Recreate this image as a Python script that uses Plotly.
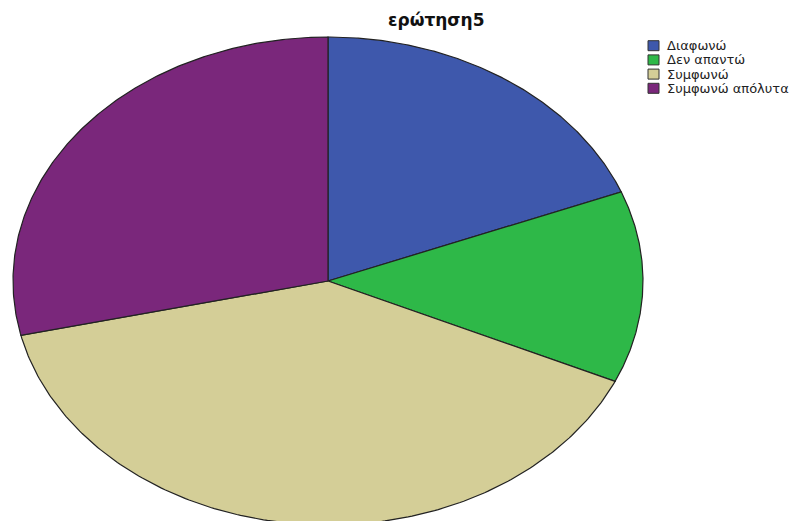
import numpy as np
import plotly.graph_objects as go

title = "ερώτηση5"
categories = ["Διαφωνώ", "Δεν απαντώ", "Συμφωνώ", "Συμφωνώ απόλυτα"]
counts = [12, 8, 25, 18]
colors = ["#3E58AC", "#2EB848", "#D4CE97", "#7A277B"]

OFF = 8                 # page body margin
W, H = 798 - OFF, 521 - OFF
CX, CY = 328 - OFF, 281 - OFF   # pie centre in pixels (figure coords)
RX, RY = 315, 244               # ellipse radii in pixels

fig = go.Figure()
total = sum(counts)
start = 0.0
for name, val, col in zip(categories, counts, colors):
    span = 2 * np.pi * val / total
    t = np.linspace(start, start + span, 200)
    xs = np.concatenate([[0], np.sin(t), [0]])
    ys = np.concatenate([[0], np.cos(t), [0]])
    fig.add_trace(go.Scatter(x=xs, y=ys, mode="lines", fill="toself",
                             fillcolor=col, line=dict(color="#222222", width=1.2),
                             name=name, hoveron="fills", showlegend=False))
    start += span


def px(x):
    return (x - OFF) / W


def py(y):
    return 1 - (y - OFF) / H


# manual legend
y0, step = 45.7, 14.2
for i, (name, col) in enumerate(zip(categories, colors)):
    yc = y0 + i * step
    fig.add_shape(type="rect", xref="paper", yref="paper",
                  x0=px(648), x1=px(659), y0=py(yc - 5), y1=py(yc + 5),
                  fillcolor=col, line=dict(color="#333333", width=1))
    fig.add_annotation(xref="paper", yref="paper", x=px(665), y=py(yc),
                       text=name, showarrow=False, xanchor="left", yanchor="middle",
                       font=dict(family="DejaVu Sans", size=13, color="#222222"))

fig.add_annotation(xref="paper", yref="paper", x=px(436), y=py(20), text="<b>" + title + "</b>",
                   showarrow=False, xanchor="center", yanchor="middle",
                   font=dict(family="DejaVu Sans", size=17, color="#111111"))

fig.update_layout(
    width=W, height=H,
    margin=dict(l=0, r=0, t=0, b=0),
    paper_bgcolor="white", plot_bgcolor="white",
    xaxis=dict(range=[-CX / RX, (W - CX) / RX], visible=False, fixedrange=True),
    yaxis=dict(range=[-(H - CY) / RY, CY / RY], visible=False, fixedrange=True),
    showlegend=False,
)

fig.write_html("out.html")
